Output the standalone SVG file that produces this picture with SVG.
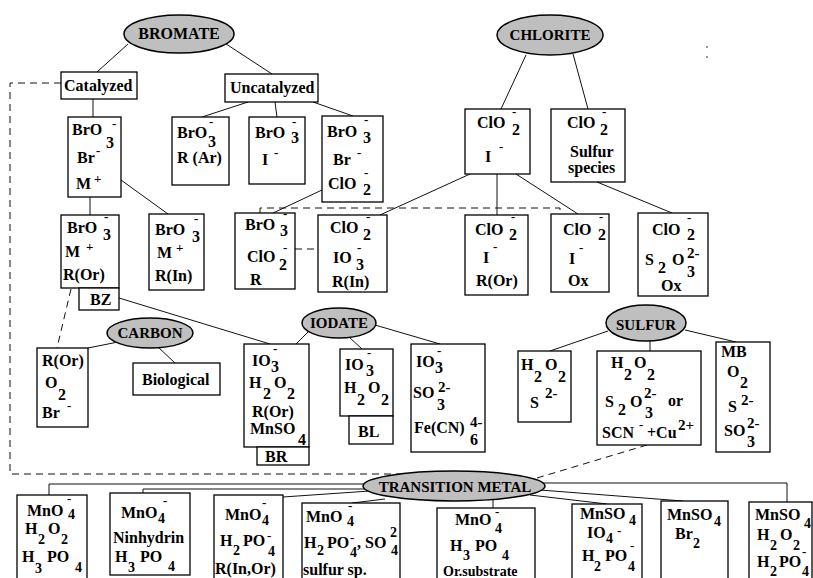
<svg xmlns="http://www.w3.org/2000/svg" width="813" height="578" viewBox="0 0 813 578">
<style>
text{font-family:"Liberation Serif","Times New Roman",serif;font-weight:bold;font-size:16px;fill:#000}
.s{font-size:13px}
.m{font-size:15px}
.u{font-size:14px}
.c{text-anchor:middle;font-size:15px}
rect.b{fill:#fff;stroke:#000;stroke-width:1.3}
ellipse{fill:#bfbfbf;stroke:#000;stroke-width:1.5}
#connectors line,#connectors polyline{stroke:#111;stroke-width:1;fill:none}
#connectors .d{stroke-dasharray:7 5}
</style>
<rect width="813" height="578" fill="#fff"/>
<g id="connectors">
<line x1="128" y1="44" x2="97" y2="72"/>
<line x1="220" y1="40" x2="272" y2="74"/>
<line x1="93" y1="99" x2="93" y2="117"/>
<line x1="248" y1="102" x2="202" y2="117"/>
<line x1="275" y1="102" x2="277" y2="117"/>
<line x1="313" y1="102" x2="353" y2="116"/>
<line x1="526" y1="55" x2="501" y2="109"/>
<line x1="573" y1="54" x2="588" y2="109"/>
<line x1="90" y1="197" x2="90" y2="215"/>
<line x1="121" y1="180" x2="168" y2="214"/>
<line x1="322" y1="190" x2="273" y2="213"/>
<line x1="470" y1="174" x2="380" y2="215"/>
<line x1="497" y1="174" x2="497" y2="215"/>
<line x1="516" y1="174" x2="578" y2="214"/>
<line x1="597" y1="182" x2="672" y2="213"/>
<line x1="119" y1="298" x2="270" y2="344"/>
<line x1="118" y1="342" x2="88" y2="348"/>
<line x1="158" y1="347" x2="175" y2="363"/>
<line x1="308" y1="332" x2="296" y2="344"/>
<line x1="349" y1="337" x2="362" y2="349"/>
<line x1="375" y1="325" x2="440" y2="344"/>
<line x1="608" y1="331" x2="550" y2="351"/>
<line x1="650" y1="341" x2="650" y2="351"/>
<line x1="685" y1="330" x2="736" y2="342"/>
<polyline points="370,484 49,484 49,495"/>
<polyline points="370,489 143,489 143,493"/>
<line x1="370" y1="491" x2="283" y2="497"/>
<line x1="385" y1="499" x2="352" y2="503"/>
<line x1="493" y1="500" x2="493" y2="508"/>
<line x1="530" y1="495" x2="607" y2="504"/>
<line x1="540" y1="490" x2="683" y2="501"/>
<polyline points="540,483 787,483 787,502"/>
<polyline class="d" points="61,83 10,83 10,474 430,474"/>
<polyline class="d" points="260,213 260,208 560,208 560,214"/>
<line class="d" x1="295" y1="249" x2="318" y2="249"/>
<line class="d" x1="71" y1="289" x2="57" y2="348"/>
<line class="d" x1="537" y1="478" x2="647" y2="445"/>
</g>
<g id="bromate"><ellipse cx="179" cy="34" rx="55" ry="19"/><text class="c" x="179" y="39" style="font-size:16px">BROMATE</text></g>
<g id="chlorite"><ellipse cx="550" cy="35" rx="53" ry="20"/><text class="c" x="550" y="40">CHLORITE</text></g>
<g id="catalyzed"><rect class="b" x="61" y="72" width="76" height="27"/><text x="64" y="91">Catalyzed</text></g>
<g id="uncatalyzed"><rect class="b" x="225" y="74" width="93" height="28"/><text x="230" y="93">Uncatalyzed</text></g>
<g id="n-bro3-br-m"><rect class="b" x="68" y="117" width="53" height="80"/>
<text x="72" y="135">BrO</text><text class="s" x="112" y="128">-</text><text x="106" y="148">3</text>
<text x="77" y="163">Br</text><text class="s" x="96" y="155">-</text>
<text x="76" y="189">M</text><text class="s" x="94" y="183">+</text></g>
<g id="n-bro3-rar"><rect class="b" x="172" y="117" width="57" height="68"/>
<text x="177" y="138">BrO</text><text class="s" x="209" y="126">-</text><text x="208" y="147">3</text>
<text x="177" y="163">R (Ar)</text></g>
<g id="n-bro3-i"><rect class="b" x="249" y="117" width="56" height="67"/>
<text x="255" y="138">BrO</text><text class="s" x="292" y="126">-</text><text x="291" y="143">3</text>
<text x="262" y="165">I</text><text class="s" x="274" y="157">-</text></g>
<g id="n-bro3-br-clo2"><rect class="b" x="322" y="116" width="61" height="86"/>
<text x="327" y="137">BrO</text><text class="s" x="364" y="124">-</text><text x="363" y="143">3</text>
<text x="333" y="165">Br</text><text class="s" x="357" y="157">-</text>
<text x="328" y="189">ClO</text><text class="s" x="364" y="177">-</text><text x="363" y="195">2</text></g>
<g id="n-clo2-i"><rect class="b" x="465" y="109" width="65" height="65"/>
<text x="477" y="128">ClO</text><text class="s" x="512" y="116">-</text><text x="512" y="135">2</text>
<text x="485" y="162">I</text><text class="s" x="499" y="151">-</text></g>
<g id="n-clo2-sulfur"><rect class="b" x="551" y="109" width="74" height="73"/>
<text x="567" y="128">ClO</text><text class="s" x="602" y="116">-</text><text x="600" y="135">2</text>
<text x="570" y="157">Sulfur</text><text x="568" y="173">species</text></g>
<g id="n-bro3-m-ror"><rect class="b" x="61" y="215" width="58" height="73"/>
<text x="67" y="233">BrO</text><text class="s" x="104" y="221">-</text><text x="103" y="240">3</text>
<text x="65" y="257">M</text><text class="s" x="86" y="251">+</text>
<text x="63" y="280">R(Or)</text></g>
<g id="bz"><rect class="b" x="79" y="288" width="40" height="22"/><text x="90" y="305">BZ</text></g>
<g id="n-bro3-m-rin"><rect class="b" x="149" y="214" width="55" height="76"/>
<text x="155" y="235">BrO</text><text class="s" x="194" y="223">-</text><text x="192" y="242">3</text>
<text x="157" y="258">M</text><text class="s" x="176" y="252">+</text>
<text x="155" y="281">R(In)</text></g>
<g id="n-bro3-clo2-r"><rect class="b" x="235" y="213" width="60" height="76"/>
<text x="245" y="230">BrO</text><text class="s" x="283" y="218">-</text><text x="280" y="236">3</text>
<text x="247" y="262">ClO</text><text class="s" x="283" y="252">-</text><text x="279" y="270">2</text>
<text x="250" y="285">R</text></g>
<g id="n-clo2-io3-rin"><rect class="b" x="318" y="215" width="69" height="77"/>
<text x="330" y="233">ClO</text><text class="s" x="366" y="221">-</text><text x="363" y="240">2</text>
<text x="333" y="263">IO</text><text class="s" x="357" y="252">-</text><text x="356" y="270">3</text>
<text x="332" y="287">R(In)</text></g>
<g id="n-clo2-i-ror"><rect class="b" x="465" y="215" width="63" height="80"/>
<text x="475" y="235">ClO</text><text class="s" x="511" y="221">-</text><text x="509" y="240">2</text>
<text x="483" y="263">I</text><text class="s" x="493" y="251">-</text>
<text x="476" y="286">R(Or)</text></g>
<g id="n-clo2-i-ox"><rect class="b" x="551" y="214" width="58" height="78"/>
<text x="563" y="235">ClO</text><text class="s" x="599" y="221">-</text><text x="598" y="240">2</text>
<text x="569" y="264">I</text><text class="s" x="579" y="252">-</text>
<text x="568" y="286">Ox</text></g>
<g id="n-clo2-s2o3-ox"><rect class="b" x="638" y="213" width="70" height="83"/>
<text x="652" y="235">ClO</text><text class="s" x="687" y="222">-</text><text x="687" y="240">2</text>
<text x="645" y="265">S</text><text x="658" y="273">2</text><text x="672" y="265">O</text><text class="m" x="687" y="258">2-</text><text x="687" y="277">3</text>
<text x="661" y="291">Ox</text></g>
<g id="carbon"><ellipse cx="150" cy="333" rx="43" ry="15"/><text class="c" x="150" y="338">CARBON</text></g>
<g id="iodate"><ellipse cx="339" cy="323" rx="37" ry="15"/><text class="c" x="339" y="328">IODATE</text></g>
<g id="sulfur"><ellipse cx="646" cy="323" rx="40" ry="18"/><text class="c" x="646" y="330">SULFUR</text></g>
<g id="n-ror-o2-br"><rect class="b" x="37" y="348" width="51" height="79"/>
<text x="42" y="366">R(Or)</text><text x="45" y="388">O</text><text x="58" y="400">2</text>
<text x="42" y="418">Br</text><text class="s" x="67" y="410">-</text></g>
<g id="biological"><rect class="b" x="133" y="363" width="87" height="32"/><text x="142" y="385">Biological</text></g>
<g id="n-io3-h2o2-ror"><rect class="b" x="244" y="344" width="65" height="103"/>
<text x="252" y="366">IO</text><text class="s" x="273" y="353">-</text><text x="271" y="372">3</text>
<text x="249" y="388">H</text><text x="263" y="399">2</text><text x="274" y="388">O</text><text x="287" y="399">2</text>
<text x="252" y="417">R(Or)</text><text x="250" y="434">MnSO</text><text x="298" y="445">4</text></g>
<g id="br"><rect class="b" x="257" y="447" width="52" height="18"/><text x="265" y="462">BR</text></g>
<g id="n-io3-h2o2"><rect class="b" x="340" y="349" width="53" height="67"/>
<text x="345" y="370">IO</text><text class="s" x="367" y="357">-</text><text x="366" y="376">3</text>
<text x="344" y="393">H</text><text x="357" y="405">2</text><text x="368" y="393">O</text><text x="381" y="405">2</text></g>
<g id="bl"><rect class="b" x="349" y="416" width="44" height="28"/><text x="358" y="437">BL</text></g>
<g id="n-io3-so3-fecn"><rect class="b" x="411" y="344" width="74" height="108"/>
<text x="416" y="367">IO</text><text class="s" x="437" y="355">-</text><text x="435" y="373">3</text>
<text x="413" y="398">SO</text><text class="m" x="438" y="392">2-</text><text x="437" y="410">3</text>
<text x="414" y="433">Fe(CN)</text><text class="m" x="470" y="427">4-</text><text x="470" y="445">6</text></g>
<g id="n-h2o2-s"><rect class="b" x="518" y="351" width="53" height="71"/>
<text x="521" y="370">H</text><text x="534" y="382">2</text><text x="545" y="370">O</text><text x="558" y="382">2</text>
<text x="530" y="408">S</text><text class="m" x="545" y="398">2-</text></g>
<g id="n-h2o2-s2o3-scn"><rect class="b" x="597" y="351" width="104" height="94"/>
<text x="611" y="368">H</text><text x="624" y="380">2</text><text x="634" y="368">O</text><text x="647" y="380">2</text>
<text x="605" y="407">S</text><text x="618" y="415">2</text><text x="630" y="407">O</text><text class="m" x="644" y="398">2-</text><text x="645" y="418">3</text><text x="668" y="406">or</text>
<text x="602" y="438">SCN</text><text class="s" x="639" y="429">-</text><text x="647" y="438">+Cu</text><text class="m" x="678" y="430">2+</text></g>
<g id="n-mb"><rect class="b" x="716" y="342" width="54" height="110"/>
<text x="721" y="357">MB</text><text x="727" y="377">O</text><text x="740" y="388">2</text>
<text x="728" y="412">S</text><text class="m" x="741" y="405">2-</text>
<text x="724" y="436">SO</text><text class="m" x="747" y="428">2-</text><text x="747" y="447">3</text></g>
<g id="transition-metal"><ellipse cx="454" cy="486" rx="91" ry="15"/><text class="c" x="455" y="492">TRANSITION METAL</text></g>
<g id="n-tm-a"><rect class="b" x="17" y="495" width="70" height="95"/>
<text x="27" y="516">MnO</text><text class="s" x="67" y="503">-</text><text class="u" x="68" y="519">4</text>
<text x="25" y="534">H</text><text class="u" x="38" y="544">2</text><text x="48" y="534">O</text><text class="u" x="61" y="544">2</text>
<text x="22" y="562">H</text><text class="u" x="35" y="573">3</text><text x="47" y="562">PO</text><text class="u" x="75" y="572">4</text></g>
<g id="n-tm-b"><rect class="b" x="110" y="493" width="80" height="82"/>
<text x="121" y="518">MnO</text><text class="u" x="158" y="523">4</text><text class="s" x="163" y="505">-</text>
<text x="113" y="543">Ninhydrin</text>
<text x="115" y="562">H</text><text class="u" x="128" y="572">3</text><text x="140" y="562">PO</text><text class="u" x="168" y="571">4</text></g>
<g id="n-tm-c"><rect class="b" x="214" y="495" width="69" height="95"/>
<text x="225" y="520">MnO</text><text class="s" x="262" y="507">-</text><text class="u" x="262" y="525">4</text>
<text x="220" y="546">H</text><text class="u" x="233" y="555">2</text><text x="243" y="546">PO</text><text class="s" x="267" y="540">-</text><text class="u" x="268" y="556">4</text>
<text x="215" y="574">R(In,Or)</text></g>
<g id="n-tm-d"><rect class="b" x="302" y="503" width="98" height="87"/>
<text x="306" y="522">MnO</text><text class="s" x="348" y="510">-</text><text class="u" x="347" y="526">4</text>
<text x="304" y="548">H</text><text class="u" x="317" y="555">2</text><text x="327" y="548">PO</text><text class="s" x="350" y="542">-</text><text class="u" x="350" y="557">4</text><text x="357" y="548">, SO</text><text class="u" x="390" y="537">2</text><text class="u" x="391" y="555">4</text>
<text x="303" y="575">sulfur sp.</text></g>
<g id="n-tm-e"><rect class="b" x="437" y="508" width="98" height="82"/>
<text x="455" y="525">MnO</text><text class="s" x="495" y="516">-</text><text class="u" x="495" y="533">4</text>
<text x="450" y="551">H</text><text class="u" x="463" y="560">3</text><text x="475" y="551">PO</text><text class="u" x="502" y="560">4</text>
<text class="u" x="443" y="576">Or.substrate</text></g>
<g id="n-tm-f"><rect class="b" x="572" y="504" width="70" height="86"/>
<text x="580" y="519">MnSO</text><text class="u" x="629" y="525">4</text>
<text x="587" y="538">IO</text><text class="s" x="617" y="535">-</text><text class="u" x="606" y="543">4</text>
<text x="582" y="561">H</text><text class="u" x="594" y="571">2</text><text x="605" y="561">PO</text><text class="s" x="630" y="550">-</text><text class="u" x="628" y="571">4</text></g>
<g id="n-tm-g"><rect class="b" x="661" y="501" width="67" height="89"/>
<text x="667" y="520">MnSO</text><text class="u" x="714" y="526">4</text>
<text x="675" y="539">Br</text><text class="u" x="693" y="548">2</text></g>
<g id="n-tm-h"><rect class="b" x="749" y="502" width="63" height="88"/>
<text x="755" y="520">MnSO</text><text class="u" x="804" y="528">4</text>
<text x="757" y="540">H</text><text class="u" x="770" y="550">2</text><text x="780" y="540">O</text><text class="u" x="793" y="550">2</text>
<text x="757" y="567">H</text><text class="u" x="770" y="576">2</text><text x="779" y="567">PO</text><text class="s" x="802" y="556">-</text><text class="u" x="802" y="576">4</text></g>
<rect x="706" y="46" width="2" height="2" fill="#999"/>
<rect x="706" y="56" width="2" height="2" fill="#999"/>
</svg>
